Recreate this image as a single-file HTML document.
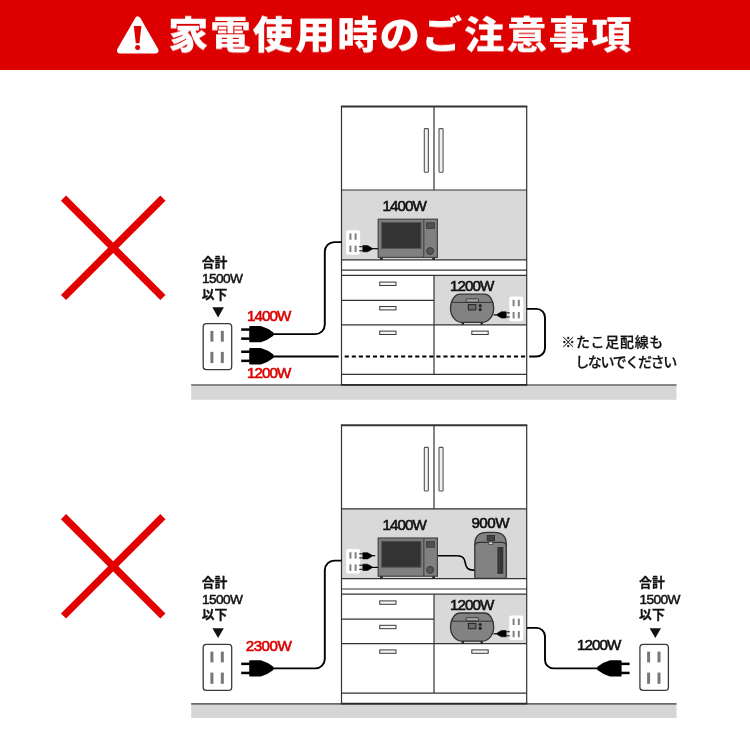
<!DOCTYPE html>
<html lang="ja">
<head>
<meta charset="utf-8">
<title>家電使用時のご注意事項</title>
<style>
html,body{margin:0;padding:0;background:#fff;}
body{width:750px;height:750px;overflow:hidden;position:relative;font-family:"Liberation Sans","Noto Sans CJK JP",sans-serif;}
#hdr{position:absolute;left:0;top:0;width:750px;height:70px;background:#dc0000;}
#hdr h1{position:absolute;left:168.3px;top:1.9px;margin:0;height:70px;line-height:70px;font-size:40px;font-weight:900;color:#fff;letter-spacing:1.8px;will-change:transform;transform-origin:0 0;transform:scale(1.012,0.949);white-space:nowrap;font-family:"Liberation Sans","Noto Sans CJK JP",sans-serif;}
#hdr svg{position:absolute;left:0;top:0;}
#dia{position:absolute;left:0;top:0;will-change:transform;}
.w{font-family:"Liberation Sans","Noto Sans CJK JP",sans-serif;}
</style>
</head>
<body>
<div id="hdr">
<svg width="750" height="70" viewBox="0 0 750 70">
<path d="M137.8 19.5 L155.5 50.5 L120 50.5 Z" fill="#fff" stroke="#fff" stroke-width="6" stroke-linejoin="round"/>
<path d="M133.8 26 h7.6 l-2 17.2 h-3.6 Z" fill="#dc0000"/>
<circle cx="137.6" cy="47.4" r="2.5" fill="#dc0000"/>
</svg>
<h1>家電使用時のご注意事項</h1>
</div>
<svg id="dia" width="750" height="750" viewBox="0 0 750 750">
<defs>
<!-- cabinet -->
<g id="cab">
  <rect x="341.5" y="190" width="185.2" height="69.8" fill="#d9d9d9"/>
  <rect x="434" y="275.4" width="92.7" height="49.4" fill="#d9d9d9"/>
  <g fill="none" stroke="#333" stroke-width="1.2">
    <path d="M341.5 106.5V384.8M526.7 106.5V384.8"/>
    <path d="M434 106.5V190M341.5 190H526.7M341.5 259.8H526.7M341.5 270.2H526.7M341.5 275.4H526.7M434 275.4V374.4M341.5 300.3H434M341.5 324.8H526.7M341.5 374.4H526.7"/>
  </g>
  <path d="M340.9 106.5H527.3" stroke="#333" stroke-width="2" fill="none"/>
  <path d="M340.9 384.8H527.3" stroke="#2a2a2a" stroke-width="1.7" fill="none"/>
  <g fill="#f0f0f0" stroke="#555" stroke-width="1.1">
    <rect x="424.3" y="128.6" width="4.1" height="43.6" rx="0.8"/>
    <rect x="439" y="128.6" width="4.1" height="43.6" rx="0.8"/>
  </g>
  <g fill="#f4f4f4" stroke="#3a3a3a" stroke-width="1">
    <rect x="379.7" y="282.1" width="16.3" height="3.4"/>
    <rect x="379.7" y="306.5" width="16.3" height="3.4"/>
    <rect x="379.7" y="331.1" width="16.3" height="3.4"/>
    <rect x="471.8" y="331.1" width="16.4" height="3.4"/>
  </g>
</g>
<!-- microwave -->
<g id="mw">
  <rect x="380" y="256.5" width="2.8" height="3.2" fill="#222"/>
  <rect x="432.2" y="256.5" width="2.8" height="3.2" fill="#222"/>
  <rect x="378.2" y="219.2" width="59.2" height="38.2" fill="#808080" stroke="#444" stroke-width="1.2"/>
  <rect x="381.6" y="222.4" width="39.4" height="26" fill="#333" stroke="#555" stroke-width="1"/>
  <path d="M423.8 219.2V257.4" stroke="#444" stroke-width="1.2"/>
  <rect x="426.6" y="222.8" width="7.8" height="5.6" fill="#505050" stroke="#3a3a3a" stroke-width="0.9"/>
  <circle cx="430.1" cy="251.1" r="3.5" fill="#555" stroke="#3a3a3a" stroke-width="1"/>
</g>
<!-- rice cooker -->
<g id="rc">
  <rect x="461.6" y="321.6" width="2.4" height="3.1" fill="#222"/>
  <rect x="480.5" y="321.6" width="2.4" height="3.1" fill="#222"/>
  <path d="M460.1 294.2 H484.5 A9.2 14.2 0 0 1 493.7 308.4 A12 14 0 0 1 481.7 322.4 H462.5 A12 14 0 0 1 450.5 308.4 A9.6 14.2 0 0 1 460.1 294.2 Z" fill="#828282" stroke="#333" stroke-width="1.3"/>
  <path d="M451.6 302.4H492.8" fill="none" stroke="#333" stroke-width="1"/>
  <rect x="466.3" y="298.9" width="12.3" height="3.1" rx="0.6" fill="#aaa" stroke="#333" stroke-width="0.9"/>
  <rect x="468.4" y="304.6" width="7.4" height="5.3" fill="#6a6a6a" stroke="#2a2a2a" stroke-width="1.1"/>
  <circle cx="480.2" cy="305.8" r="1.7" fill="#2a2a2a"/>
  <circle cx="480.2" cy="309.5" r="1.7" fill="#2a2a2a"/>
</g>
<!-- small outlet -->
<g id="so">
  <rect x="0" y="0" width="14" height="24.6" rx="2" fill="#fff"/>
  <g fill="#808080">
    <rect x="3.3" y="3.2" width="2" height="6.4"/>
    <rect x="8.5" y="3.2" width="2" height="6.4"/>
    <rect x="3.3" y="15.4" width="2" height="6.4"/>
    <rect x="8.5" y="15.4" width="2" height="6.4"/>
  </g>
</g>
<!-- big outlet -->
<g id="bo">
  <rect x="0" y="0" width="28.5" height="46" rx="3.2" fill="#fff" stroke="#3a3a3a" stroke-width="1.3"/>
  <g fill="#777">
    <rect x="7.2" y="7.2" width="3" height="10.8"/>
    <rect x="17.6" y="7.2" width="3" height="10.8"/>
    <rect x="7.2" y="28.2" width="3" height="11.2"/>
    <rect x="17.6" y="28.2" width="3" height="11.2"/>
  </g>
</g>
<!-- big plug: origin at cord junction (right tip), pointing left -->
<g id="bp">
  <path d="M0 -1.7 Q-6 -6.4 -12.6 -8.2 H-23 Q-24.2 -8.2 -24.2 -7 V7 Q-24.2 8.2 -23 8.2 H-12.6 Q-6 6.4 0 1.7Z" fill="#000"/>
  <rect x="-32.2" y="-5.8" width="8.5" height="2.5" fill="#000"/>
  <rect x="-32.2" y="3.3" width="8.5" height="2.5" fill="#000"/>
</g>
<!-- small plug: origin at cord junction (right tip), pointing left -->
<g id="sp">
  <path d="M0 -0.7 L-4.2 -3.1 H-9 V3.1 H-4.2 L0 0.7Z" fill="#000" stroke="#000" stroke-width="0.6" stroke-linejoin="round"/>
  <rect x="-12.6" y="-2.7" width="3.6" height="1.3" fill="#3a3a3a"/>
  <rect x="-12.6" y="1.4" width="3.6" height="1.3" fill="#3a3a3a"/>
</g>
</defs>

<!-- X marks -->
<g stroke="#e20000" stroke-width="7.3" fill="none">
  <path d="M63.5 198.1L162.9 297.5M162.9 198.1L63.5 297.5"/>
  <path d="M63.5 516.6L162.9 616M162.9 516.6L63.5 616"/>
</g>

<!-- ===== Diagram 1 ===== -->
<g>
  <rect x="191.2" y="384.4" width="485.3" height="15.4" fill="#d6d6d6"/>
  <path d="M191.2 385H676.5" stroke="#6a6a6a" stroke-width="1.7"/>
  <rect x="341.5" y="106.5" width="185.2" height="278.3" fill="#fff"/>
  <use href="#cab"/>
  <use href="#mw"/>
  <use href="#rc"/>
  <use href="#so" x="346.1" y="230.2"/>
  <use href="#so" x="509.3" y="296.6"/>
  <!-- cords -->
  <g fill="none" stroke="#000" stroke-width="1.9">
    <path d="M273 334.1H315.3A9.5 9.5 0 0 0 324.8 324.6V251.6A9.5 9.5 0 0 1 334.3 242.1H341.5"/>
    <path d="M273 356.5H338.7"/>
    <path d="M344.7 356.5H526" stroke-dasharray="4.15 2.9" stroke-width="2.1"/>
    <path d="M529.2 356.5H536.5A8.5 8.5 0 0 0 545 348V317.4A8.5 8.5 0 0 0 536.5 308.9H526.8"/>
    <path d="M371 248.7H378" stroke-width="1.2"/>
    <path d="M493.5 314.9H498" stroke-width="1.2"/>
  </g>
  <use href="#sp" x="371.8" y="248.7"/>
  <use href="#sp" transform="translate(497.2 314.9) scale(-1 1)"/>
  <use href="#bp" x="273.4" y="334.1"/>
  <use href="#bp" x="273.4" y="356.3"/>
  <use href="#bo" x="203.2" y="323.7"/>
  <path d="M212.3 307.3H223.9L218.1 317.6Z" fill="#111"/>
  <g class="w" fill="#111">
    <text x="201.7" y="267.1" font-size="12.8" font-weight="700" stroke="#111" stroke-width="0.3">合計</text>
    <text x="202" y="283.3" font-size="13.7" letter-spacing="-0.6" stroke="#111" stroke-width="0.5">1500W</text>
    <text x="201.7" y="299.1" font-size="12.8" font-weight="700" stroke="#111" stroke-width="0.3">以下</text>
    <text x="382.4" y="211.1" font-size="15.2" letter-spacing="-0.95" stroke="#111" stroke-width="0.6">1400W</text>
    <text x="450" y="291.2" font-size="15.2" letter-spacing="-0.95" stroke="#111" stroke-width="0.6">1200W</text>
    <text x="561.2" y="347.2" font-size="13.9" font-weight="500" letter-spacing="0.8" stroke="#111" stroke-width="0.25">※たこ足配線も</text>
    <text x="575.2" y="367.4" font-size="14" font-weight="500" letter-spacing="-1.35" stroke="#111" stroke-width="0.25">しないでください</text>
  </g>
  <g class="w" fill="#dc0000">
    <text x="247" y="320.7" font-size="15.2" letter-spacing="-0.95" stroke="#dc0000" stroke-width="0.6">1400W</text>
    <text x="247" y="377.8" font-size="15.2" letter-spacing="-0.95" stroke="#dc0000" stroke-width="0.6">1200W</text>
  </g>
</g>

<!-- ===== Diagram 2 ===== -->
<g>
  <rect x="191.2" y="703.2" width="485.3" height="14.8" fill="#d6d6d6"/>
  <path d="M191.2 703.8H676.5" stroke="#6a6a6a" stroke-width="1.7"/>
  <rect x="341.5" y="425.3" width="185.2" height="278.3" fill="#fff"/>
  <g transform="translate(0 318.8)">
    <use href="#cab"/>
    <path d="M437.6 236.9H457.5Q464.6 236.9 465.3 244.1Q466 251.3 473 251.3H475" fill="none" stroke="#000" stroke-width="1.6"/>
    <use href="#mw"/>
    <use href="#rc"/>
    <use href="#so" x="346.1" y="230.2"/>
    <use href="#so" x="509.3" y="296.6"/>
    <!-- kettle -->
    <g id="kt">
      <path d="M474.8 258 V225.5 Q474.8 213.5 487 213.5 H494.2 Q506.3 213.5 506.3 225.5 V258 Q506.3 259.5 504.8 259.5 H476.3 Q474.8 259.5 474.8 258 Z" fill="#828282" stroke="#333" stroke-width="1.3" stroke-linejoin="round"/>
      <path d="M474.8 226.2 Q475.6 223.6 479.5 223.6 H501.6 Q505.5 223.6 506.3 226.2" fill="none" stroke="#333" stroke-width="1.1"/>
      <rect x="487.2" y="216.8" width="7.4" height="4.8" fill="#444" stroke="#2a2a2a" stroke-width="0.8"/>
      <rect x="488.8" y="223.2" width="4" height="2.6" fill="#ddd" stroke="#333" stroke-width="0.7"/>
      <rect x="497.9" y="228.6" width="5" height="26" fill="#333" stroke="#2a2a2a" stroke-width="0.7"/>
      <path d="M499.4 230V254" stroke="#555" stroke-width="1.4" stroke-dasharray="0.8 1.2" fill="none"/>
    </g>
    <g fill="none" stroke="#000" stroke-width="1.2">
      <path d="M371 236.9H375.2"/>
      <path d="M371 248.6H378"/>
      <path d="M493.5 315H498"/>
    </g>
    <use href="#sp" x="371.8" y="237"/>
    <use href="#sp" x="371.8" y="248.5"/>
    <use href="#sp" transform="translate(497.2 314.9) scale(-1 1)"/>
  </g>
  <g fill="none" stroke="#000" stroke-width="1.9">
    <path d="M273 668.4H315.3A9.5 9.5 0 0 0 324.8 658.9V570.1A9.5 9.5 0 0 1 334.3 560.6H341.5"/>
    <path d="M526.8 627.9H536.5A8.5 8.5 0 0 1 545 636.4V659.9A8.5 8.5 0 0 0 553.5 668.4H598"/>
  </g>
  <use href="#bp" x="273.4" y="668.4"/>
  <use href="#bp" transform="translate(597.4 668.4) scale(-1 1)"/>
  <use href="#bo" x="203.2" y="644.4"/>
  <use href="#bo" x="639.9" y="644.4"/>
  <path d="M212.4 628.3H223.8L218.1 638Z" fill="#111"/>
  <path d="M649.6 628.3H661L655.3 638Z" fill="#111"/>
  <g class="w" fill="#111">
    <text x="201.7" y="587.1" font-size="12.8" font-weight="700" stroke="#111" stroke-width="0.3">合計</text>
    <text x="202" y="603.7" font-size="13.7" letter-spacing="-0.6" stroke="#111" stroke-width="0.5">1500W</text>
    <text x="201.7" y="619.2" font-size="12.8" font-weight="700" stroke="#111" stroke-width="0.3">以下</text>
    <text x="639.1" y="587.1" font-size="12.8" font-weight="700" stroke="#111" stroke-width="0.3">合計</text>
    <text x="639.4" y="603.7" font-size="13.7" letter-spacing="-0.6" stroke="#111" stroke-width="0.5">1500W</text>
    <text x="639.1" y="619.2" font-size="12.8" font-weight="700" stroke="#111" stroke-width="0.3">以下</text>
    <text x="382.4" y="529.9" font-size="15.2" letter-spacing="-0.95" stroke="#111" stroke-width="0.6">1400W</text>
    <text x="471.4" y="527.5" font-size="15.2" letter-spacing="-0.5" stroke="#111" stroke-width="0.6">900W</text>
    <text x="450" y="609.6" font-size="15.2" letter-spacing="-0.95" stroke="#111" stroke-width="0.6">1200W</text>
    <text x="577" y="650.3" font-size="15.2" letter-spacing="-0.95" stroke="#111" stroke-width="0.6">1200W</text>
  </g>
  <g class="w" fill="#dc0000">
    <text x="245.8" y="651.4" font-size="15.2" letter-spacing="-0.55" stroke="#dc0000" stroke-width="0.6">2300W</text>
  </g>
</g>
</svg>
</body>
</html>
